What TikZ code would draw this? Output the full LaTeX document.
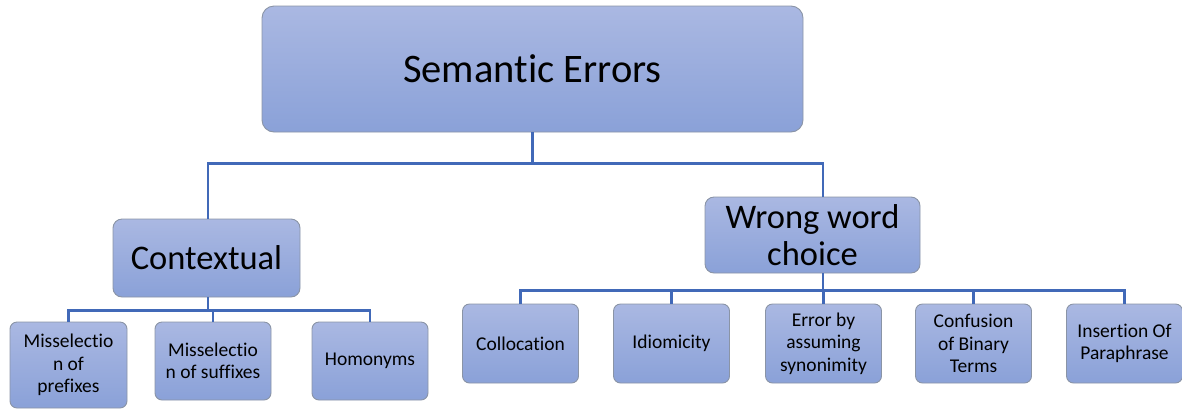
\documentclass[tikz,border=0pt]{standalone}
\usepackage{fontspec}
\setmainfont{Carlito}[Ligatures=NoCommon]
\usetikzlibrary{shadings}
\definecolor{boxtop}{HTML}{AAB8E2}
\definecolor{boxbot}{HTML}{8AA1D8}
\definecolor{boxline}{HTML}{8A94A6}
\definecolor{conn}{HTML}{4169B8}
\tikzset{
  box/.style={rectangle, rounded corners=7pt, draw=boxline, line width=0.9pt,
    top color=boxtop, bottom color=boxbot, align=center, inner sep=1pt},
  small/.style={box, minimum width=116pt, minimum height=78pt, font=\fontsize{19.5}{22.5}\selectfont},
  link/.style={draw=conn, line width=2.2pt}
}
\begin{document}
\begin{tikzpicture}[x=1pt,y=-1pt]
\useasboundingbox (0,0) rectangle (1182,408);
\node[box, rounded corners=12pt, minimum width=541pt, minimum height=126pt, font=\fontsize{40.5}{44}\selectfont] (sem) at (532.5,69) {Semantic Errors};
\node[box, rounded corners=9pt, minimum width=187pt, minimum height=78pt, font=\fontsize{34.5}{37}\selectfont] (ctx) at (206.5,258) {Contextual};
\node[box, rounded corners=9pt, minimum width=215pt, minimum height=76pt, font=\fontsize{34.5}{37}\selectfont] (wrong) at (812.5,235) {Wrong word\\choice};

\node[small, minimum width=117pt, minimum height=86pt] (pre) at (68.5,365) {Misselectio\\n of\\prefixes};
\node[small] (suf) at (213,361) {Misselectio\\n of suffixes};
\node[small] (hom) at (370,361) {Homonyms};

\node[small, minimum height=79pt] (col) at (520.5,343.5) {Collocation};
\node[small, minimum height=79pt] (idi) at (671.5,343.5) {Idiomicity};
\node[small, minimum height=79pt] (syn) at (823.5,343.5) {Error by\\assuming\\synonimity};
\node[small, minimum height=79pt] (bin) at (973.5,343.5) {Confusion\\of Binary\\Terms};
\node[small, minimum height=79pt] (ins) at (1124.5,343.5) {Insertion Of\\Paraphrase};

\draw[link] (sem.south) -- ++(0,31) -| ([xshift=1.5pt]ctx.north);
\draw[link] (sem.south) -- ++(0,31) -| ([xshift=10.5pt]wrong.north);

\draw[link] ([xshift=1.5pt]ctx.south) -- ++(0,13) -| (pre.north);
\draw[link] ([xshift=1.5pt]ctx.south) -- ++(0,13) -| (suf.north);
\draw[link] ([xshift=1.5pt]ctx.south) -- ++(0,13) -| (hom.north);

\draw[link] ([xshift=10.5pt]wrong.south) -- ++(0,17) -| (col.north);
\draw[link] ([xshift=10.5pt]wrong.south) -- ++(0,17) -| (idi.north);
\draw[link] ([xshift=10.5pt]wrong.south) -- ++(0,17) -| (syn.north);
\draw[link] ([xshift=10.5pt]wrong.south) -- ++(0,17) -| (bin.north);
\draw[link] ([xshift=10.5pt]wrong.south) -- ++(0,17) -| (ins.north);
\end{tikzpicture}
\end{document}
